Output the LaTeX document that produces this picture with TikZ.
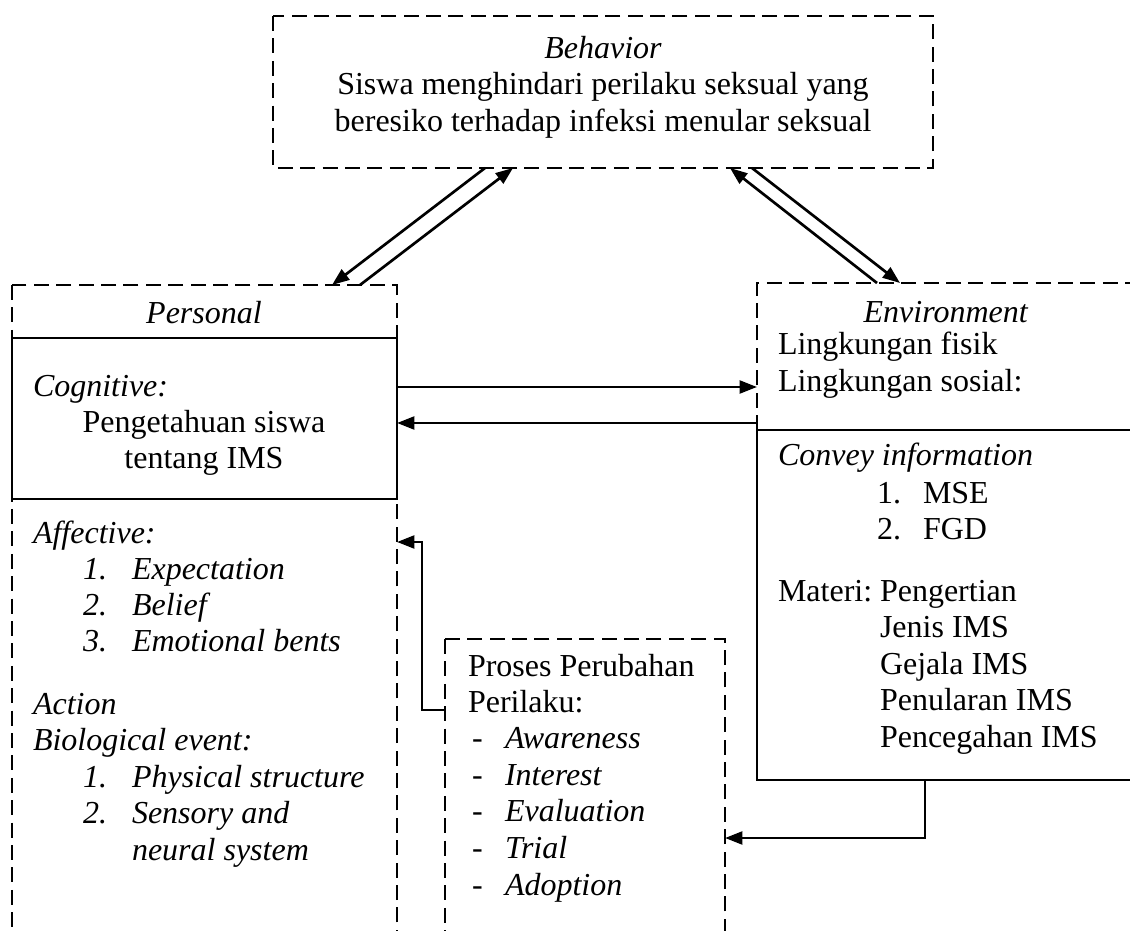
\documentclass[tikz,border=0pt]{standalone}
\usepackage{fontspec}
\setmainfont{Liberation Serif}
\usetikzlibrary{arrows.meta}
\tikzset{
  dbox/.style={draw, line width=1.05pt, dash pattern=on 5.6pt off 2.8pt},
  sline/.style={draw, line width=1pt},
  arr/.style={draw, line width=1pt, -{Triangle[length=6.5pt,width=4.8pt]}},
  txt/.style={inner sep=0pt, outer sep=0pt, font=\fontsize{12}{13.7}\selectfont},
  lt/.style={txt, anchor=mid west},
  ct/.style={txt, align=center},
}
\begin{document}
\begin{tikzpicture}[x=0.375pt,y=-0.375pt]
\useasboundingbox (0,0) rectangle (1130,931);
\fill[white] (0,0) rectangle (1130,931);
\begin{scope}
\clip (0,0) rectangle (1130,931);

% ---------- top box ----------
\coordinate (topNW) at (273,16);
\coordinate (topSE) at (933,168);
\draw[dbox] (topNW) rectangle (topSE);
\node[ct] (behav) at (603,87) {\textit{Behavior}\\Siswa menghindari perilaku seksual yang\\beresiko terhadap infeksi menular seksual};

% ---------- personal box ----------
\coordinate (perNW) at (12,285);
\coordinate (perSE) at (397,960);
\draw[dbox] (perNW) rectangle (perSE);
\coordinate (cogNW) at (12,338);
\coordinate (cogSE) at (397,499);
\draw[sline] (cogNW) rectangle (cogSE);
\node[ct] (perT) at (204,313) {\textit{Personal}};
\node[lt] (cogT) at (33,390) {\textit{Cognitive:}};
\node[ct] (cogX) at (204,443) {Pengetahuan siswa\\tentang IMS};
\node[lt] (affT) at (33,537) {\textit{Affective:}};
\node[lt] (affN1) at (83,573) {\textit{1.}};
\node[lt] (aff1) at (132,573) {\textit{Expectation}};
\node[lt] (affN2) at (83,609) {\textit{2.}};
\node[lt] (aff2) at (132,609) {\textit{Belief}};
\node[lt] (affN3) at (83,645) {\textit{3.}};
\node[lt] (aff3) at (132,645) {\textit{Emotional bents}};
\node[lt] (actT) at (33,708) {\textit{Action}};
\node[lt] (bioT) at (33,744) {\textit{Biological event:}};
\node[lt] (bioN1) at (83,781) {\textit{1.}};
\node[lt] (bio1) at (132,781) {\textit{Physical structure}};
\node[lt] (bioN2) at (83,817) {\textit{2.}};
\node[lt] (bio2) at (132,817) {\textit{Sensory and}};
\node[lt] (bio2b) at (132,854) {\textit{neural system}};

% ---------- environment box ----------
\coordinate (envNW) at (757,283);
\coordinate (envTR) at (1140,283);
\coordinate (envML) at (757,430);
\coordinate (envMR) at (1140,430);
\coordinate (envSW) at (757,780);
\coordinate (envSE) at (1140,780);
\draw[dbox] (envML) -- (envNW) -- (envTR);
\draw[sline] (envMR) -- (envML) -- (envSW) -- (envSE);
\node[ct] (envT) at (946,312) {\textit{Environment}};
\node[lt] (env1) at (778,348) {Lingkungan fisik};
\node[lt] (env2) at (778,385) {Lingkungan sosial:};
\node[lt] (conT) at (778,459) {\textit{Convey information}};
\node[lt] (conN1) at (877,497) {1.};
\node[lt] (con1) at (923,497) {MSE};
\node[lt] (conN2) at (877,533) {2.};
\node[lt] (con2) at (923,533) {FGD};
\node[lt] (matT) at (778,595) {Materi:};
\node[lt] (mat1) at (880,595) {Pengertian};
\node[lt] (mat2) at (880,631) {Jenis IMS};
\node[lt] (mat3) at (880,668) {Gejala IMS};
\node[lt] (mat4) at (880,704) {Penularan IMS};
\node[lt] (mat5) at (880,741) {Pencegahan IMS};

% ---------- process box ----------
\coordinate (proNW) at (445,639);
\coordinate (proSE) at (725,960);
\draw[dbox] (proNW) rectangle (proSE);
\node[lt] (proT1) at (468,670) {Proses Perubahan};
\node[lt] (proT2) at (468,706) {Perilaku:};
\foreach \t [count=\i] in {Awareness,Interest,Evaluation,Trial,Adoption}{
  \node[lt] (proD\i) at (472,706+36.6*\i) {-};
  \node[lt] (proS\i) at (505,706+36.6*\i) {\textit{\t}};
}

% ---------- connectors ----------
\coordinate (a1s) at (485,168);  \coordinate (a1e) at (332,285);
\coordinate (a2s) at (360,285);  \coordinate (a2e) at (513,168);
\coordinate (a3s) at (877,283);  \coordinate (a3e) at (730,168);
\coordinate (a4s) at (752,168);  \coordinate (a4e) at (900,283);
\draw[arr] (a1s) -- (a1e);
\draw[arr] (a2s) -- (a2e);
\draw[arr] (a3s) -- (a3e);
\draw[arr] (a4s) -- (a4e);

\coordinate (h1s) at (397,387);  \coordinate (h1e) at (757,387);
\coordinate (h2s) at (757,423);  \coordinate (h2e) at (397,423);
\draw[arr] (h1s) -- (h1e);
\draw[arr] (h2s) -- (h2e);

\coordinate (p1s) at (445,710);  \coordinate (p1k1) at (422,710);
\coordinate (p1k2) at (422,542); \coordinate (p1e) at (397,542);
\draw[arr] (p1s) -- (p1k1) -- (p1k2) -- (p1e);

\coordinate (e1s) at (925,780);  \coordinate (e1k) at (925,838);
\coordinate (e1e) at (725,838);
\draw[arr] (e1s) -- (e1k) -- (e1e);
\end{scope}
\end{tikzpicture}
\end{document}
